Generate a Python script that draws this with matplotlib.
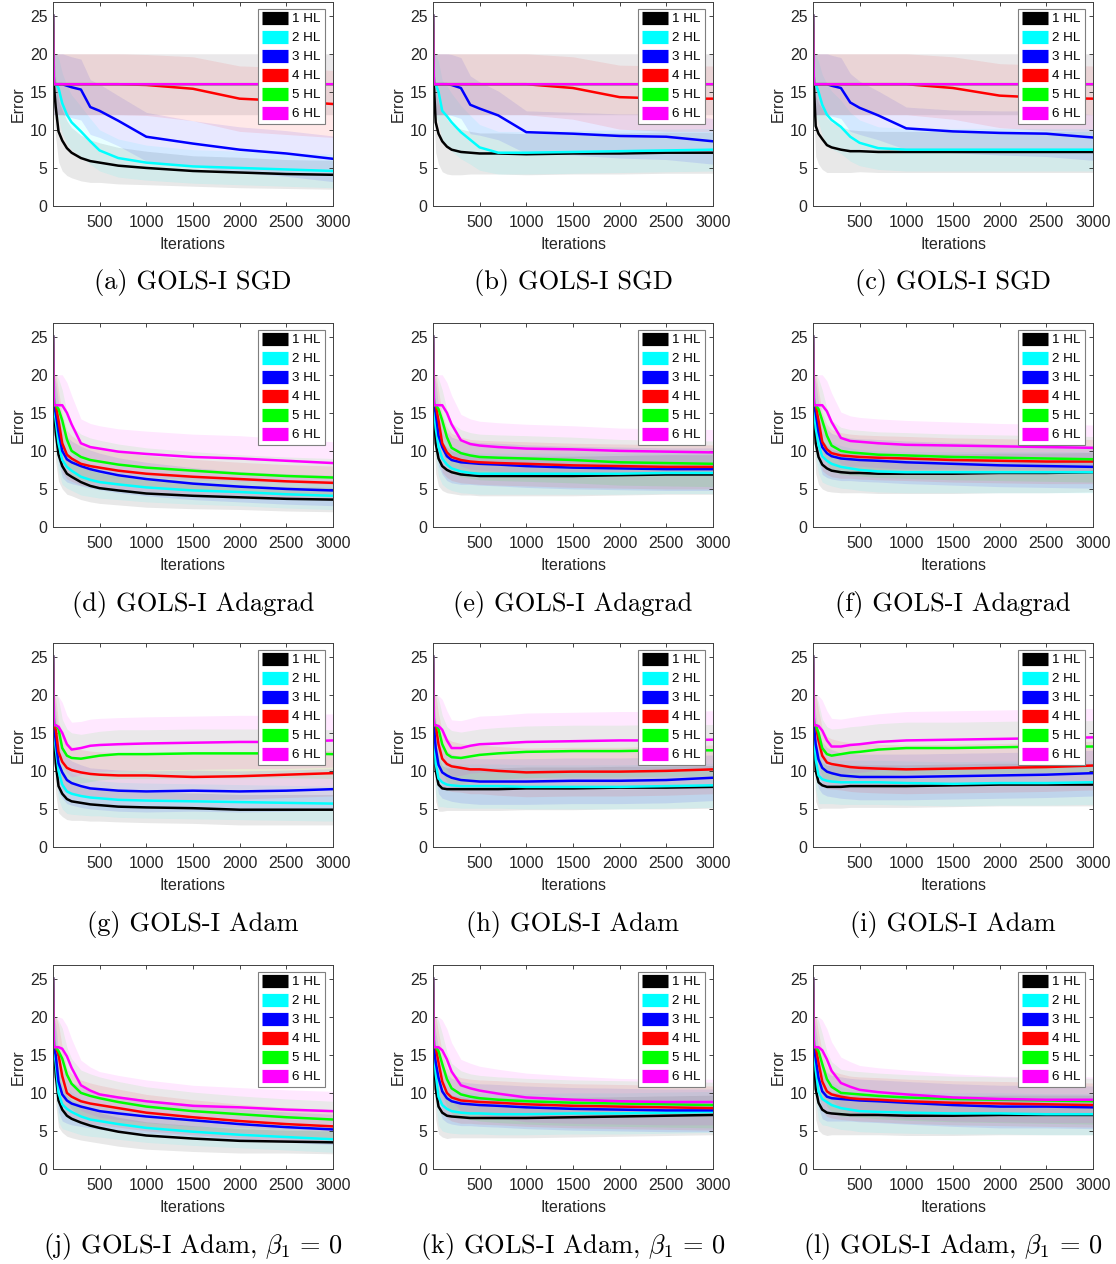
import matplotlib
matplotlib.use("Agg")
import matplotlib.pyplot as plt
from matplotlib.lines import Line2D
import numpy as np

plt.rcParams['mathtext.fontset'] = 'cm'
plt.rcParams['font.family'] = ['Liberation Sans', 'DejaVu Sans']

# ---------------- data ----------------
ITER = [1, 10, 30, 60, 100, 150, 200, 300, 400, 500, 700, 1000, 1500, 2000, 2500, 3000]
LABELS = ['1 HL', '2 HL', '3 HL', '4 HL', '5 HL', '6 HL']
COLORS = ['#000000', '#00ffff', '#0000ff', '#ff0000', '#00ff00', '#ff00ff']
CAPTIONS = ['(a) GOLS-I SGD', '(b) GOLS-I SGD', '(c) GOLS-I SGD',
            '(d) GOLS-I Adagrad', '(e) GOLS-I Adagrad', '(f) GOLS-I Adagrad',
            '(g) GOLS-I Adam', '(h) GOLS-I Adam', '(i) GOLS-I Adam',
            r'(j) GOLS-I Adam, $\beta_1\,=\,0$', r'(k) GOLS-I Adam, $\beta_1\,=\,0$',
            r'(l) GOLS-I Adam, $\beta_1\,=\,0$']
X_TICKS = [500, 1000, 1500, 2000, 2500, 3000]
Y_TICKS = [0, 5, 10, 15, 20, 25]

MEAN_A = [
    [25, 16, 13.0, 9.8, 8.6, 7.6, 7.0, 6.3, 5.9, 5.7, 5.3, 5.0, 4.6, 4.4, 4.2, 4.1],
    [25, 16, 16, 15.5, 13.5, 12.0, 11.0, 9.8, 8.5, 7.3, 6.3, 5.7, 5.2, 5.0, 4.8, 4.6],
    [25, 16, 16, 16, 16, 15.8, 15.6, 15.3, 13.0, 12.5, 11.2, 9.1, 8.2, 7.4, 6.9, 6.2],
    [25, 16, 16, 16, 16, 16, 16, 16, 16, 16, 16, 15.9, 15.4, 14.1, 13.8, 13.4],
    [25, 16, 16, 16, 16, 16, 16, 16, 16, 16, 16, 16, 16, 16, 16, 16],
    [25, 16, 16, 16, 16, 16, 16, 16, 16, 16, 16, 16, 16, 16, 16, 16],
]
MEAN_B = [
    [25, 16, 11.0, 9.5, 8.5, 7.8, 7.4, 7.1, 7.0, 6.9, 6.9, 6.8, 6.9, 6.9, 7.0, 7.0],
    [25, 16, 16, 15.0, 12.5, 11.8, 11.0, 9.7, 8.7, 7.7, 7.0, 7.0, 7.1, 7.2, 7.3, 7.4],
    [25, 16, 16, 16, 16, 16, 15.9, 15.5, 13.3, 12.8, 11.9, 9.7, 9.5, 9.2, 9.1, 8.5],
    [25, 16, 16, 16, 16, 16, 16, 16, 16, 16, 16, 16, 15.5, 14.3, 14.1, 14.1],
    [25, 16, 16, 16, 16, 16, 16, 16, 16, 16, 16, 16, 16, 16, 16, 16],
    [25, 16, 16, 16, 16, 16, 16, 16, 16, 16, 16, 16, 16, 16, 16, 16],
]
MEAN_C = [
    [25, 16, 10.5, 9.5, 8.8, 8.0, 7.7, 7.4, 7.2, 7.2, 7.1, 7.1, 7.1, 7.1, 7.1, 7.1],
    [25, 16, 16, 15.0, 13.3, 12.0, 11.3, 10.4, 9.1, 8.3, 7.6, 7.4, 7.4, 7.4, 7.4, 7.4],
    [25, 16, 16, 16, 16, 16, 15.8, 15.5, 13.6, 12.9, 11.9, 10.2, 9.8, 9.6, 9.5, 9.0],
    [25, 16, 16, 16, 16, 16, 16, 16, 16, 16, 16, 16, 15.5, 14.5, 14.2, 14.1],
    [25, 16, 16, 16, 16, 16, 16, 16, 16, 16, 16, 16, 16, 16, 16, 16],
    [25, 16, 16, 16, 16, 16, 16, 16, 16, 16, 16, 16, 16, 16, 16, 16],
]
MEAN_D = [
    [25, 16, 12.5, 9.5, 8.0, 7.0, 6.6, 5.9, 5.4, 5.1, 4.8, 4.4, 4.1, 3.9, 3.7, 3.6],
    [25, 16, 14.0, 11.0, 8.8, 7.9, 7.4, 6.6, 6.2, 5.9, 5.6, 5.2, 4.8, 4.6, 4.3, 4.1],
    [25, 16, 15.0, 12.5, 10.0, 8.9, 8.5, 8.0, 7.6, 7.3, 6.8, 6.3, 5.7, 5.3, 5.0, 4.8],
    [25, 16, 16, 14.0, 11.0, 9.5, 9.0, 8.3, 8.0, 7.8, 7.4, 7.0, 6.6, 6.3, 6.0, 5.8],
    [25, 16, 16, 15.5, 14.0, 11.5, 10.0, 9.2, 8.8, 8.6, 8.2, 7.8, 7.4, 7.0, 6.7, 6.5],
    [25, 16, 16, 16, 16, 15.0, 13.5, 11.0, 10.5, 10.3, 9.9, 9.6, 9.2, 9.0, 8.7, 8.4],
]
MEAN_E = [
    [25, 16, 11.0, 9.0, 8.0, 7.5, 7.2, 6.9, 6.8, 6.7, 6.7, 6.7, 6.7, 6.8, 6.9, 6.9],
    [25, 16, 13.0, 10.5, 9.0, 8.2, 7.7, 7.3, 7.1, 7.0, 7.0, 7.0, 7.0, 7.0, 7.1, 7.1],
    [25, 16, 15.0, 12.0, 10.5, 9.3, 8.8, 8.5, 8.4, 8.3, 8.2, 8.0, 7.8, 7.7, 7.6, 7.6],
    [25, 16, 16, 14.0, 11.0, 9.8, 9.2, 8.8, 8.6, 8.5, 8.4, 8.3, 8.1, 8.0, 7.9, 7.9],
    [25, 16, 16, 15.5, 14.0, 11.8, 10.4, 9.7, 9.4, 9.2, 9.1, 9.0, 8.8, 8.5, 8.4, 8.3],
    [25, 16, 16, 16, 16, 15.0, 13.5, 11.4, 10.9, 10.7, 10.5, 10.3, 10.2, 10.0, 9.9, 9.8],
]
MEAN_F = [
    [25, 16, 11.0, 9.2, 8.2, 7.7, 7.4, 7.2, 7.1, 7.1, 7.0, 7.0, 7.0, 7.1, 7.1, 7.2],
    [25, 16, 13.0, 10.8, 9.3, 8.7, 8.3, 7.9, 7.7, 7.5, 7.3, 7.2, 7.2, 7.2, 7.2, 7.2],
    [25, 16, 15.0, 12.5, 10.5, 9.7, 9.3, 9.0, 8.9, 8.8, 8.7, 8.5, 8.3, 8.1, 8.0, 7.9],
    [25, 16, 16, 14.0, 11.2, 10.2, 9.7, 9.4, 9.3, 9.2, 9.1, 9.0, 8.8, 8.7, 8.6, 8.6],
    [25, 16, 16, 15.5, 14.0, 12.0, 10.7, 10.0, 9.8, 9.7, 9.5, 9.4, 9.2, 9.1, 9.0, 8.9],
    [25, 16, 16, 16, 16, 15.2, 13.8, 11.7, 11.3, 11.2, 11.0, 10.8, 10.7, 10.6, 10.5, 10.4],
]
MEAN_G = [
    [25, 16, 11.0, 8.0, 7.0, 6.3, 6.0, 5.8, 5.6, 5.5, 5.3, 5.2, 5.1, 4.9, 4.9, 4.9],
    [25, 16, 13.0, 10.0, 8.2, 7.3, 7.0, 6.7, 6.5, 6.4, 6.2, 6.1, 6.0, 5.9, 5.8, 5.7],
    [25, 16, 14.0, 11.0, 9.8, 8.8, 8.4, 8.0, 7.7, 7.6, 7.4, 7.3, 7.4, 7.3, 7.4, 7.6],
    [25, 16, 15.5, 12.5, 11.2, 10.4, 10.1, 9.8, 9.6, 9.5, 9.4, 9.4, 9.2, 9.3, 9.5, 9.7],
    [25, 16, 16, 15.5, 13.0, 12.0, 11.7, 11.6, 11.8, 12.0, 12.2, 12.2, 12.3, 12.3, 12.3, 12.2],
    [25, 16, 16, 15.8, 15.0, 13.5, 12.8, 13.0, 13.3, 13.4, 13.5, 13.6, 13.7, 13.8, 13.8, 14.0],
]
MEAN_H = [
    [25, 16, 10.0, 8.2, 7.7, 7.6, 7.6, 7.6, 7.6, 7.6, 7.6, 7.7, 7.7, 7.8, 7.8, 7.9],
    [25, 16, 11.0, 9.0, 8.5, 8.2, 8.1, 8.0, 8.0, 8.0, 8.0, 7.9, 7.9, 7.9, 8.0, 8.1],
    [25, 16, 13.0, 10.8, 9.8, 9.4, 9.1, 8.8, 8.7, 8.6, 8.6, 8.6, 8.7, 8.7, 8.8, 9.1],
    [25, 16, 16, 13.5, 11.6, 10.9, 10.6, 10.4, 10.2, 10.2, 10.0, 9.8, 9.9, 9.9, 10.0, 10.2],
    [25, 16, 16, 15.5, 13.5, 12.2, 11.8, 11.7, 11.9, 12.1, 12.3, 12.5, 12.6, 12.6, 12.7, 12.7],
    [25, 16, 16, 15.9, 15.4, 14.0, 13.0, 13.0, 13.3, 13.5, 13.6, 13.8, 13.9, 14.0, 14.0, 14.1],
]
MEAN_I = [
    [25, 16, 10.0, 8.5, 8.1, 7.9, 7.9, 7.9, 8.0, 8.0, 8.0, 8.0, 8.1, 8.2, 8.2, 8.2],
    [25, 16, 11.5, 9.4, 8.9, 8.7, 8.6, 8.5, 8.5, 8.5, 8.5, 8.4, 8.3, 8.4, 8.4, 8.5],
    [25, 16, 13.5, 11.5, 10.4, 9.9, 9.7, 9.4, 9.3, 9.2, 9.2, 9.2, 9.3, 9.4, 9.5, 9.7],
    [25, 16, 16, 14.0, 12.0, 11.1, 10.9, 10.7, 10.5, 10.4, 10.3, 10.2, 10.3, 10.4, 10.5, 10.7],
    [25, 16, 16, 15.0, 13.0, 12.2, 12.0, 12.2, 12.4, 12.5, 12.8, 13.0, 13.0, 13.1, 13.2, 13.2],
    [25, 16, 16, 15.9, 15.3, 14.0, 13.2, 13.2, 13.4, 13.5, 13.8, 14.0, 14.1, 14.2, 14.3, 14.4],
]
MEAN_J = [
    [25, 16, 12.5, 9.0, 7.8, 7.0, 6.6, 6.1, 5.7, 5.4, 4.9, 4.4, 4.0, 3.7, 3.6, 3.5],
    [25, 16, 14.0, 10.0, 8.5, 7.9, 7.5, 6.9, 6.5, 6.3, 5.9, 5.4, 4.9, 4.5, 4.2, 3.9],
    [25, 16, 15.0, 11.5, 9.8, 9.0, 8.6, 8.2, 7.9, 7.6, 7.3, 6.9, 6.4, 5.9, 5.5, 5.2],
    [25, 16, 16, 15.0, 12.2, 10.0, 9.5, 8.9, 8.6, 8.4, 8.0, 7.4, 6.8, 6.3, 5.9, 5.6],
    [25, 16, 16, 15.5, 14.5, 12.4, 11.2, 10.0, 9.6, 9.3, 8.8, 8.2, 7.6, 7.2, 6.8, 6.5],
    [25, 16, 16, 16, 15.8, 14.8, 13.3, 11.0, 10.3, 9.8, 9.4, 8.9, 8.3, 8.1, 7.8, 7.6],
]
MEAN_K = [
    [25, 16, 10.5, 8.2, 7.4, 7.0, 6.9, 6.8, 6.7, 6.7, 6.7, 6.7, 6.8, 6.9, 7.0, 7.1],
    [25, 16, 12.5, 9.5, 8.4, 7.9, 7.6, 7.4, 7.3, 7.3, 7.2, 7.2, 7.3, 7.3, 7.4, 7.5],
    [25, 16, 14.0, 12.0, 10.2, 9.3, 8.9, 8.6, 8.5, 8.4, 8.3, 8.1, 7.9, 7.8, 7.7, 7.7],
    [25, 16, 16, 14.0, 11.5, 10.0, 9.4, 9.0, 8.9, 8.8, 8.7, 8.5, 8.3, 8.2, 8.1, 8.0],
    [25, 16, 16, 15.5, 13.8, 11.8, 10.6, 9.8, 9.5, 9.3, 9.1, 8.9, 8.7, 8.6, 8.5, 8.4],
    [25, 16, 16, 16, 15.6, 14.4, 12.8, 11.0, 10.6, 10.3, 9.9, 9.4, 9.1, 8.9, 8.8, 8.8],
]
MEAN_L = [
    [25, 16, 10.5, 8.7, 7.8, 7.4, 7.3, 7.2, 7.1, 7.1, 7.1, 7.0, 7.0, 7.1, 7.1, 7.1],
    [25, 16, 13.0, 10.2, 9.2, 8.8, 8.4, 8.0, 7.8, 7.6, 7.5, 7.4, 7.3, 7.3, 7.2, 7.2],
    [25, 16, 14.5, 12.0, 10.2, 9.5, 9.3, 9.2, 9.1, 9.0, 8.9, 8.7, 8.4, 8.2, 8.2, 8.1],
    [25, 16, 16, 14.0, 11.5, 10.2, 9.8, 9.5, 9.3, 9.2, 9.1, 8.9, 8.7, 8.6, 8.5, 8.4],
    [25, 16, 16, 15.5, 13.8, 11.8, 10.8, 10.0, 9.9, 9.8, 9.6, 9.4, 9.2, 9.1, 9.0, 8.9],
    [25, 16, 16, 16, 15.6, 14.4, 12.9, 11.3, 10.8, 10.4, 10.1, 9.8, 9.4, 9.2, 9.1, 9.1],
]

# standard deviations (band half-widths)
STD_SGD_A = [
    [0, 4, 4, 4, 4, 3.6, 3.3, 3.0, 2.8, 2.6, 2.4, 2.2, 2.0, 2.0, 1.9, 1.9],
    [0, 4, 4, 4, 4, 3.8, 3.6, 3.3, 3.0, 2.7, 2.5, 2.3, 2.2, 2.2, 2.2, 2.2],
    [0, 4, 4, 4, 4, 4, 4, 4, 3.6, 3.5, 3.3, 3.2, 3.0, 3.0, 3.0, 3.0],
    [0, 4, 4, 4, 4, 4, 4, 4, 4, 4, 4, 4, 4.2, 4.3, 4.4, 4.4],
    [0, 4, 4, 4, 4, 4, 4, 4, 4, 4, 4, 4, 4, 4, 4, 4],
    [0, 4, 4, 4, 4, 4, 4, 4, 4, 4, 4, 4, 4, 4, 4, 4],
]
STD_SGD_BC = [
    [0, 4, 4, 4, 4, 3.6, 3.3, 3.0, 2.8, 2.7, 2.7, 2.7, 2.7, 2.7, 2.7, 2.7],
    [0, 4, 4, 4, 4, 4, 3.8, 3.5, 3.2, 3.0, 2.8, 2.8, 2.8, 2.8, 2.8, 2.8],
    [0, 4, 4, 4, 4, 4, 4, 4, 3.8, 3.5, 3.2, 2.8, 2.8, 2.9, 3.0, 3.0],
    [0, 4, 4, 4, 4, 4, 4, 4, 4, 4, 4, 4, 4.1, 4.2, 4.3, 4.3],
    [0, 4, 4, 4, 4, 4, 4, 4, 4, 4, 4, 4, 4, 4, 4, 4],
    [0, 4, 4, 4, 4, 4, 4, 4, 4, 4, 4, 4, 4, 4, 4, 4],
]
STD_NARROW = [
    [0, 4, 4, 3.5, 3.0, 2.7, 2.5, 2.3, 2.1, 2.0, 1.9, 1.8, 1.7, 1.6, 1.6, 1.6],
    [0, 4, 4, 3.8, 3.2, 2.8, 2.6, 2.4, 2.2, 2.1, 2.0, 1.9, 1.8, 1.8, 1.8, 1.8],
    [0, 4, 4, 4, 3.5, 3.0, 2.8, 2.6, 2.5, 2.4, 2.3, 2.2, 2.1, 2.0, 2.0, 2.0],
    [0, 4, 4, 4, 3.8, 3.2, 3.0, 2.8, 2.7, 2.6, 2.5, 2.4, 2.3, 2.2, 2.2, 2.2],
    [0, 4, 4, 4, 4, 3.6, 3.3, 3.0, 2.9, 2.8, 2.7, 2.6, 2.5, 2.5, 2.5, 2.5],
    [0, 4, 4, 4, 4, 4, 3.8, 3.2, 3.1, 3.0, 3.0, 3.0, 3.0, 3.0, 2.9, 2.8],
]
STD_WIDE = [
    [0, 4, 4, 3.6, 3.2, 3.0, 2.8, 2.7, 2.6, 2.6, 2.6, 2.6, 2.6, 2.6, 2.6, 2.6],
    [0, 4, 4, 3.8, 3.4, 3.1, 2.9, 2.8, 2.7, 2.7, 2.7, 2.7, 2.7, 2.7, 2.7, 2.7],
    [0, 4, 4, 4, 3.6, 3.2, 3.0, 2.9, 2.8, 2.8, 2.8, 2.8, 2.8, 2.8, 2.8, 2.8],
    [0, 4, 4, 4, 3.8, 3.3, 3.1, 3.0, 2.9, 2.9, 2.9, 2.9, 2.9, 2.9, 2.9, 2.9],
    [0, 4, 4, 4, 4, 3.6, 3.3, 3.1, 3.0, 3.0, 3.0, 3.0, 3.0, 3.0, 3.0, 3.0],
    [0, 4, 4, 4, 4, 4, 3.8, 3.4, 3.3, 3.2, 3.2, 3.2, 3.1, 3.0, 3.0, 3.0],
]
STD_ADAM_G = [
    [0, 4, 4, 3.5, 3.0, 2.7, 2.5, 2.3, 2.2, 2.1, 2.0, 2.0, 2.0, 2.0, 2.0, 2.0],
    [0, 4, 4, 3.7, 3.2, 2.9, 2.7, 2.5, 2.4, 2.3, 2.3, 2.3, 2.3, 2.3, 2.3, 2.3],
    [0, 4, 4, 3.8, 3.4, 3.1, 2.9, 2.8, 2.7, 2.7, 2.7, 2.7, 2.7, 2.7, 2.7, 2.7],
    [0, 4, 4, 4, 3.6, 3.3, 3.1, 3.0, 3.0, 3.0, 3.0, 3.0, 3.0, 3.0, 3.0, 3.0],
    [0, 4, 4, 4, 3.8, 3.5, 3.3, 3.2, 3.2, 3.2, 3.2, 3.2, 3.2, 3.2, 3.2, 3.2],
    [0, 4, 4, 4, 4, 3.8, 3.6, 3.5, 3.5, 3.5, 3.5, 3.5, 3.5, 3.5, 3.5, 3.5],
]
STD_ADAM_HI = [
    [0, 4, 4, 3.5, 3.0, 2.8, 2.8, 2.8, 2.8, 2.8, 2.8, 2.8, 2.8, 2.8, 2.8, 2.8],
    [0, 4, 4, 3.7, 3.2, 3.0, 2.9, 2.9, 2.9, 2.9, 2.9, 2.9, 2.9, 2.9, 2.9, 2.9],
    [0, 4, 4, 3.8, 3.4, 3.2, 3.1, 3.0, 3.0, 3.0, 3.0, 3.0, 3.0, 3.0, 3.0, 3.0],
    [0, 4, 4, 4, 3.6, 3.4, 3.3, 3.2, 3.2, 3.2, 3.2, 3.2, 3.2, 3.2, 3.2, 3.2],
    [0, 4, 4, 4, 3.8, 3.6, 3.5, 3.4, 3.4, 3.4, 3.4, 3.4, 3.4, 3.4, 3.4, 3.4],
    [0, 4, 4, 4, 4, 3.9, 3.7, 3.6, 3.6, 3.7, 3.7, 3.8, 3.8, 3.8, 3.8, 3.8],
]
STD_ADAMB_J = [
    [0, 4, 4, 3.5, 3.0, 2.7, 2.5, 2.3, 2.1, 2.0, 1.9, 1.8, 1.7, 1.6, 1.5, 1.5],
    [0, 4, 4, 3.8, 3.2, 2.8, 2.6, 2.4, 2.2, 2.1, 2.0, 1.9, 1.8, 1.7, 1.7, 1.7],
    [0, 4, 4, 4, 3.5, 3.0, 2.8, 2.6, 2.5, 2.4, 2.3, 2.2, 2.1, 2.0, 2.0, 2.0],
    [0, 4, 4, 4, 3.8, 3.2, 3.0, 2.8, 2.7, 2.6, 2.5, 2.4, 2.3, 2.2, 2.2, 2.2],
    [0, 4, 4, 4, 4, 3.6, 3.3, 3.0, 2.9, 2.8, 2.7, 2.6, 2.5, 2.4, 2.4, 2.4],
    [0, 4, 4, 4, 4, 4, 3.8, 3.3, 3.1, 3.0, 2.9, 2.8, 2.7, 2.6, 2.6, 2.6],
]

PANELS = [
    (MEAN_A, STD_SGD_A), (MEAN_B, STD_SGD_BC), (MEAN_C, STD_SGD_BC),
    (MEAN_D, STD_NARROW), (MEAN_E, STD_WIDE), (MEAN_F, STD_WIDE),
    (MEAN_G, STD_ADAM_G), (MEAN_H, STD_ADAM_HI), (MEAN_I, STD_ADAM_HI),
    (MEAN_J, STD_ADAMB_J), (MEAN_K, STD_WIDE), (MEAN_L, STD_WIDE),
]

# ---------------- layout ----------------
W, H = 1116, 1264
fig = plt.figure(figsize=(W / 100, H / 100), dpi=100)
COL_LEFT = [53, 433, 813]
ROW_TOP = [2, 323, 643, 965]
AX_W, AX_H = 280, 204
CAP_Y = [283, 604, 925, 1246]
TXT = '#262626'

x = np.array(ITER, dtype=float)
for k, (means, stds) in enumerate(PANELS):
    r, c = divmod(k, 3)
    ax = fig.add_axes([COL_LEFT[c] / W, 1 - (ROW_TOP[r] + AX_H) / H, AX_W / W, AX_H / H])
    for m, s, col in zip(means, stds, COLORS):
        m = np.array(m, dtype=float)
        s = np.array(s, dtype=float)
        ax.fill_between(x, np.clip(m - s, 0, None), m + s, color=col, alpha=0.09, lw=0)
    for m, col, lab in zip(means, COLORS, LABELS):
        ax.plot(x, m, color=col, lw=1.8, label=lab)
    ax.set_xlim(1, 3000)
    ax.set_ylim(0, 26.8)
    ax.set_xticks(X_TICKS)
    ax.set_yticks(Y_TICKS)
    ax.tick_params(direction='in', length=3, width=0.6, top=True, right=True,
                   labelsize=11.4, colors=TXT)
    ax.tick_params(axis='x', pad=6.5)
    ax.tick_params(axis='y', pad=4)
    for sp in ax.spines.values():
        sp.set_color('#404040')
        sp.set_linewidth(0.7)
    ax.set_xlabel('Iterations', fontsize=11.5, color=TXT, labelpad=5)
    ax.set_ylabel('Error', fontsize=11.5, color=TXT, labelpad=2.5)
    handles = [Line2D([0], [0], color=col, lw=9.5, solid_capstyle='butt') for col in COLORS]
    leg = ax.legend(handles, LABELS, loc='upper right', bbox_to_anchor=(0.971, 0.966),
                    fontsize=9.6, handlelength=1.9, handletextpad=0.35, labelspacing=0.5,
                    borderpad=0.3, borderaxespad=0.0, frameon=True, fancybox=False,
                    framealpha=1, edgecolor='#7f7f7f')
    leg.get_frame().set_linewidth(0.8)
    fig.text((COL_LEFT[c] + AX_W / 2) / W, 1 - CAP_Y[r] / H, CAPTIONS[k],
             ha='center', va='center', fontsize=19, family='cmr10')

fig.savefig('out.png', dpi=100, facecolor='white')
